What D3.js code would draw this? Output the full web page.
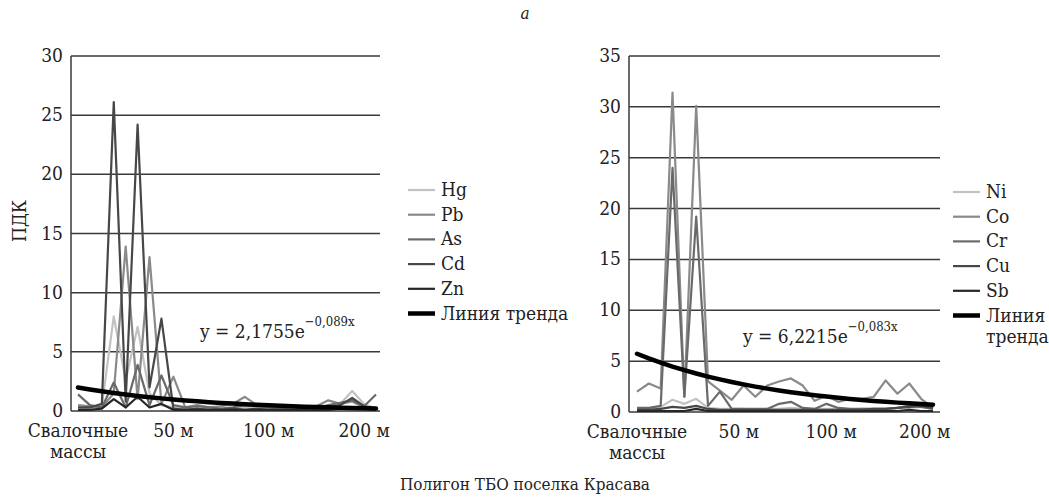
<!DOCTYPE html>
<html>
<head>
<meta charset="utf-8">
<script src="https://cdn.jsdelivr.net/npm/d3@7"></script>
<style>
  body { margin: 0; background: #fff; }
  svg text { font-family: "DejaVu Serif Condensed", "DejaVu Serif", serif; font-stretch: condensed; fill: #222; }
</style>
</head>
<body>
<svg id="chart" width="1049" height="497"></svg>
<script>
// Tick labels along the sampling profile (26 points each)
const leftTickIdx = [0, 8, 16, 24],
  rightTickIdx = [0, 8.6, 16.4, 24.3],
  tickLabels = [["Свалочные", "массы"], ["50 м"], ["100 м"], ["200 м"]];

// Left panel: Hg, Pb, As, Cd, Zn (ПДК)
const hg = [0.2, 0.2, 0.4, 8.0, 2.6, 7.1, 1.5, 0.5, 0.3, 0.2, 0.2, 0.1, 0.2, 0.2, 0.3, 0.4, 0.2, 0.1, 0.2, 0.2, 0.3, 0.4, 0.6, 1.7, 0.6, 0.2];
const pb = [0.5, 0.4, 0.3, 1.5, 13.9, 1.0, 13.0, 0.6, 2.9, 0.3, 0.5, 0.3, 0.4, 0.6, 1.2, 0.5, 0.4, 0.3, 0.3, 0.2, 0.4, 0.9, 0.6, 0.8, 0.3, 0.2];
const as = [1.4, 0.5, 0.3, 2.4, 0.3, 3.9, 0.5, 3.0, 0.5, 0.3, 0.4, 0.3, 0.2, 0.3, 0.5, 0.4, 0.3, 0.2, 0.3, 0.4, 0.2, 0.5, 0.7, 0.9, 0.4, 1.4];
const cd = [0.3, 0.3, 0.6, 26.1, 0.8, 24.2, 2.0, 7.8, 0.2, 0.1, 0.2, 0.1, 0.1, 0.2, 0.1, 0.2, 0.1, 0.1, 0.1, 0.2, 0.1, 0.3, 0.5, 1.1, 0.4, 0.2];
const zn = [0.1, 0.1, 0.2, 1.0, 0.3, 1.2, 0.3, 0.6, 0.1, 0.1, 0.1, 0.1, 0.1, 0.1, 0.1, 0.1, 0.1, 0.1, 0.1, 0.1, 0.1, 0.1, 0.2, 0.3, 0.2, 0.1];

// Right panel: Ni, Co, Cr, Cu, Sb
const ni = [0.3, 0.3, 0.5, 1.2, 0.8, 1.3, 0.4, 0.3, 0.3, 0.3, 0.2, 0.3, 0.3, 0.4, 0.3, 0.3, 0.3, 0.3, 0.2, 0.3, 0.3, 0.3, 0.4, 0.4, 0.5, 0.3];
const co = [2.0, 2.8, 2.3, 31.4, 1.5, 30.1, 3.0, 2.1, 1.2, 2.6, 1.5, 2.6, 3.0, 3.3, 2.6, 1.1, 1.6, 1.0, 1.3, 1.3, 1.5, 3.1, 1.8, 2.8, 1.3, 0.4];
const cr = [0.4, 0.4, 0.6, 24.0, 1.5, 19.2, 0.6, 2.0, 0.3, 0.3, 0.3, 0.3, 0.8, 1.0, 0.4, 0.3, 0.8, 0.4, 0.3, 0.3, 0.3, 0.3, 0.4, 0.6, 0.5, 0.3];
const cu = [0.2, 0.2, 0.3, 0.5, 0.4, 0.6, 0.3, 0.2, 0.2, 0.2, 0.2, 0.2, 0.2, 0.2, 0.2, 0.2, 0.2, 0.2, 0.2, 0.2, 0.3, 0.3, 0.4, 0.5, 0.6, 0.4];
const sb = [0.1, 0.1, 0.1, 0.1, 0.1, 0.3, 0.1, 0.1, 0.1, 0.1, 0.1, 0.1, 0.1, 0.1, 0.1, 0.1, 0.1, 0.1, 0.1, 0.1, 0.1, 0.1, 0.1, 0.2, 0.1, 0.1];

// exponential trend lines, as printed on the chart
const leftTrend = { a: 2.1755, b: -0.089, label: "2,1755", exp: "−0,089x" },
  rightTrend = { a: 6.2215, b: -0.083, label: "6,2215", exp: "−0,083x" };

const grays = ["#c2c2c2", "#8a8a8a", "#6a6a6a", "#474747", "#262626"];

const svg = d3.select("#chart");

svg.append("text")
  .attr("x", 525).attr("y", 19)
  .attr("text-anchor", "middle")
  .attr("font-style", "italic")
  .attr("font-size", 17)
  .text("а");

svg.append("text")
  .attr("x", 525).attr("y", 490)
  .attr("text-anchor", "middle")
  .attr("font-size", 17)
  .text("Полигон ТБО поселка Красава");

svg.append("text")
  .attr("transform", "translate(26,221) rotate(-90)")
  .attr("text-anchor", "middle")
  .attr("font-size", 19)
  .text("ПДК");

drawChart({
  series: [["Hg", hg], ["Pb", pb], ["As", as], ["Cd", cd], ["Zn", zn]],
  yMax: 30, xRange: [78, 376], plot: [71, 380], yRange: [411, 56],
  tickIdx: leftTickIdx, trend: leftTrend, eq: [200, 338],
  legend: [408, 190], trendLabel: ["Линия тренда"]
});

drawChart({
  series: [["Ni", ni], ["Co", co], ["Cr", cr], ["Cu", cu], ["Sb", sb]],
  yMax: 35, xRange: [637, 933], plot: [629, 940], yRange: [412, 56],
  tickIdx: rightTickIdx, trend: rightTrend, eq: [743, 343],
  legend: [953, 192], trendLabel: ["Линия", "тренда"]
});

function drawChart({ series, yMax, xRange, plot, yRange, tickIdx, trend, eq, legend, trendLabel }) {
  const n = series[0][1].length;
  const x = d3.scaleLinear().domain([0, n - 1]).range(xRange);
  const y = d3.scaleLinear().domain([0, yMax]).range(yRange);

  const g = svg.append("g");

  // horizontal grid + tick labels
  const yTicks = d3.range(0, yMax + 1, 5);
  g.selectAll(".grid")
    .data(yTicks)
    .join("line")
    .attr("x1", plot[0]).attr("x2", plot[1])
    .attr("y1", d => y(d)).attr("y2", d => y(d))
    .attr("stroke", "#3a3a3a")
    .attr("stroke-width", 1.5);

  g.selectAll(".ylab")
    .data(yTicks)
    .join("text")
    .attr("x", plot[0] - 8)
    .attr("y", d => y(d) + 6)
    .attr("text-anchor", "end")
    .attr("font-size", 19)
    .text(d => d);

  g.append("line")
    .attr("x1", plot[0]).attr("x2", plot[0])
    .attr("y1", y(yMax)).attr("y2", y(0))
    .attr("stroke", "#3a3a3a")
    .attr("stroke-width", 1.5);

  // x labels
  g.selectAll(".xlab")
    .data(tickIdx)
    .join("text")
    .attr("text-anchor", "middle")
    .attr("font-size", 19)
    .attr("transform", d => `translate(${x(d)},${y(0) + 26})`)
    .selectAll("tspan")
    .data((d, i) => tickLabels[i])
    .join("tspan")
    .attr("x", 0)
    .attr("dy", (d, i) => i ? 21 : 0)
    .text(d => d);

  const line = d3.line().x((d, i) => x(i)).y(d => y(d));

  series.forEach(([name, values], k) => {
    g.append("path")
      .datum(values)
      .attr("fill", "none")
      .attr("stroke", grays[k])
      .attr("stroke-width", 2.2)
      .attr("stroke-linejoin", "round")
      .attr("d", line);
  });

  // trend line y = a*e^(b*x), x = 1..n
  const trendVals = series[0][1].map((v, i) => trend.a * Math.exp(trend.b * (i + 1)));
  g.append("path")
    .datum(trendVals)
    .attr("fill", "none")
    .attr("stroke", "#000")
    .attr("stroke-width", 4.5)
    .attr("stroke-linecap", "round")
    .attr("d", line);

  const eqText = g.append("text")
    .attr("x", eq[0]).attr("y", eq[1])
    .attr("font-size", 19);
  eqText.append("tspan").text(`y = ${trend.label}e`);
  eqText.append("tspan")
    .attr("dy", -12)
    .attr("font-size", 13)
    .text(trend.exp);

  // legend
  const items = series.map(s => s[0]);
  const leg = g.append("g").attr("transform", `translate(${legend[0]},${legend[1]})`);
  items.forEach((name, k) => {
    leg.append("line")
      .attr("x1", 0).attr("x2", 27)
      .attr("y1", k * 24.7).attr("y2", k * 24.7)
      .attr("stroke", grays[k])
      .attr("stroke-width", 2.2);
    leg.append("text")
      .attr("x", 33).attr("y", k * 24.7 + 6)
      .attr("font-size", 19)
      .text(name);
  });
  const ty = items.length * 24.7;
  leg.append("line")
    .attr("x1", 0).attr("x2", 27)
    .attr("y1", ty).attr("y2", ty)
    .attr("stroke", "#000")
    .attr("stroke-width", 4.5);
  leg.append("text")
    .attr("x", 33).attr("y", ty + 6)
    .attr("font-size", 19)
    .selectAll("tspan")
    .data(trendLabel)
    .join("tspan")
    .attr("x", 33)
    .attr("dy", (d, i) => i ? 21 : 0)
    .text(d => d);
}
</script>
</body>
</html>
